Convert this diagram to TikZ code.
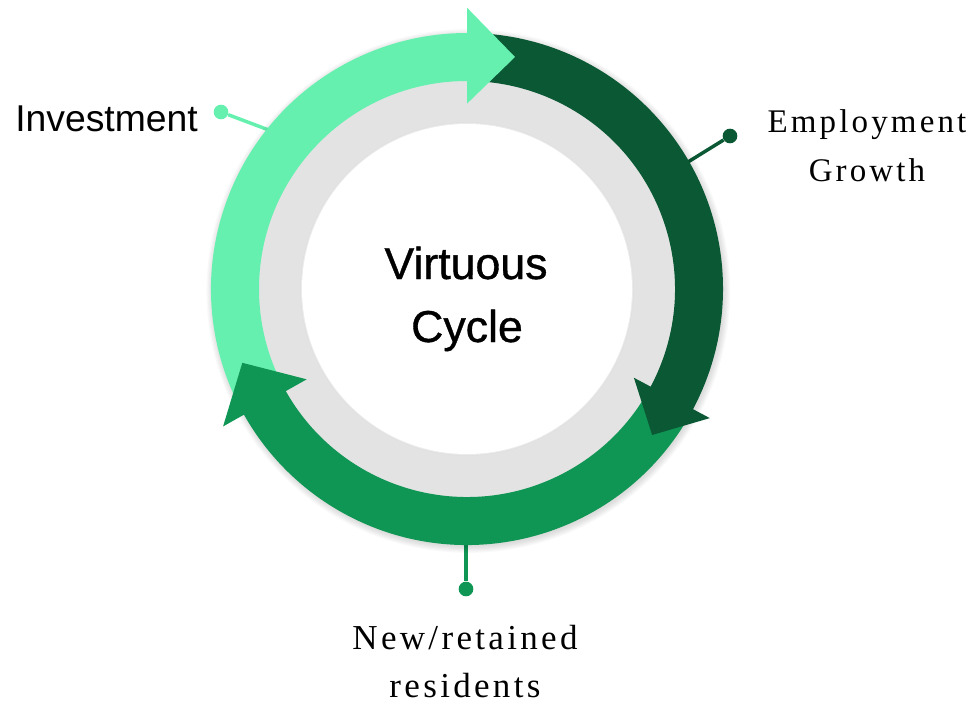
\documentclass[tikz,border=0pt]{standalone}
\usepackage{fontspec}
\setmainfont{Liberation Sans}
\newfontfamily\lblserif[LetterSpace=9.5]{Liberation Serif}
\newfontfamily\centerfont[FakeBold=0.8]{Liberation Sans}
\usetikzlibrary{calc}
\definecolor{lg}{HTML}{66F0AF}
\definecolor{dg}{HTML}{0A5834}
\definecolor{mg}{HTML}{109654}
\definecolor{ringgray}{HTML}{E3E3E3}
\tikzset{
  lead/.style={line width=2.6pt},
  leaddot/.style={circle, inner sep=0pt, minimum size=11pt},
  sanslbl/.style={inner sep=0pt, font=\fontsize{28}{33}\selectfont},
  centerlbl/.style={inner sep=0pt, font=\centerfont\fontsize{33.5}{40}\selectfont},
  seriflbl/.style={inner sep=0pt, font=\lblserif\fontsize{26.25}{30}\selectfont},
  seriflblsm/.style={inner sep=0pt, font=\lblserif\fontsize{24.75}{30}\selectfont},
}
% shaft: colour, start angle, end angle (clockwise)
\newcommand{\ringshaft}[3]{%
  \fill[#1] ($(O)+(#2:192pt)$) arc[start angle=#2, end angle=#3, radius=192pt]
    -- ($(O)+(#3:156pt)$) arc[start angle=#3, end angle=#2, radius=156pt] -- cycle;}
% head: colour, base angle, outer radius, inner radius, tip direction, length
\newcommand{\ringhead}[6]{%
  \fill[#1] ($(O)+(#2:#3)$) -- ($(O)+(#2:174pt)+(#5:#6)$) -- ($(O)+(#2:#4)$) -- cycle;}
\begin{document}
\begin{tikzpicture}[x=0.75pt,y=0.75pt]
\useasboundingbox (0,0) rectangle (980,708);
\coordinate (O) at (467,419);

% leader lines (under the ring)
\node[leaddot, fill=lg] (dinv) at (221,596) {};
\coordinate (einv) at (290,570);
\draw[lead, lg] (dinv) -- (einv);
\node[leaddot, fill=dg] (demp) at (730,572) {};
\coordinate (eemp) at (675,538);
\draw[lead, dg] (demp) -- (eemp);
\node[leaddot, fill=mg] (dres) at (466,119) {};
\coordinate (eres) at (466,180);
\draw[lead, mg] (dres) -- (eres);

% soft shadow of the ring
\foreach \i in {1,...,6}
  \fill[black, opacity=0.025] ($(O)+(1pt,-1.5pt)$) circle[radius=191pt+\i*0.9pt];

% gray ring and white disc
\fill[ringgray] (O) circle[radius=158pt];
\fill[black!12] (O) circle[radius=125pt];
\fill[black!8] (O) circle[radius=124.5pt];
\fill[white] (O) circle[radius=123.75pt];

% shafts
\ringshaft{lg}{207.4}{89.5}
\ringshaft{dg}{88}{-28.5}
\ringshaft{mg}{-30}{-151.1}

% heads
\ringhead{lg}{90}{211pt}{139pt}{0}{36pt}
\ringhead{dg}{-28}{206.25pt}{141.75pt}{-118}{31.5pt}
\ringhead{mg}{209.4}{210pt}{138pt}{119.4}{34.5pt}

% texts
\node[sanslbl, anchor=base west] (inv) at (15,576) {Investment};
\node[centerlbl, anchor=base] (vc1) at (466,429) {Virtuous};
\node[centerlbl, anchor=base] (vc2) at (467,366) {Cycle};
\node[seriflblsm, anchor=base] (emp1) at (867,575) {Employment};
\node[seriflblsm, anchor=base] (emp2) at (867,526) {Growth};
\node[seriflbl, anchor=base] (res1) at (465,59) {New/retained};
\node[seriflbl, anchor=base] (res2) at (465,11) {residents};
\end{tikzpicture}
\end{document}
